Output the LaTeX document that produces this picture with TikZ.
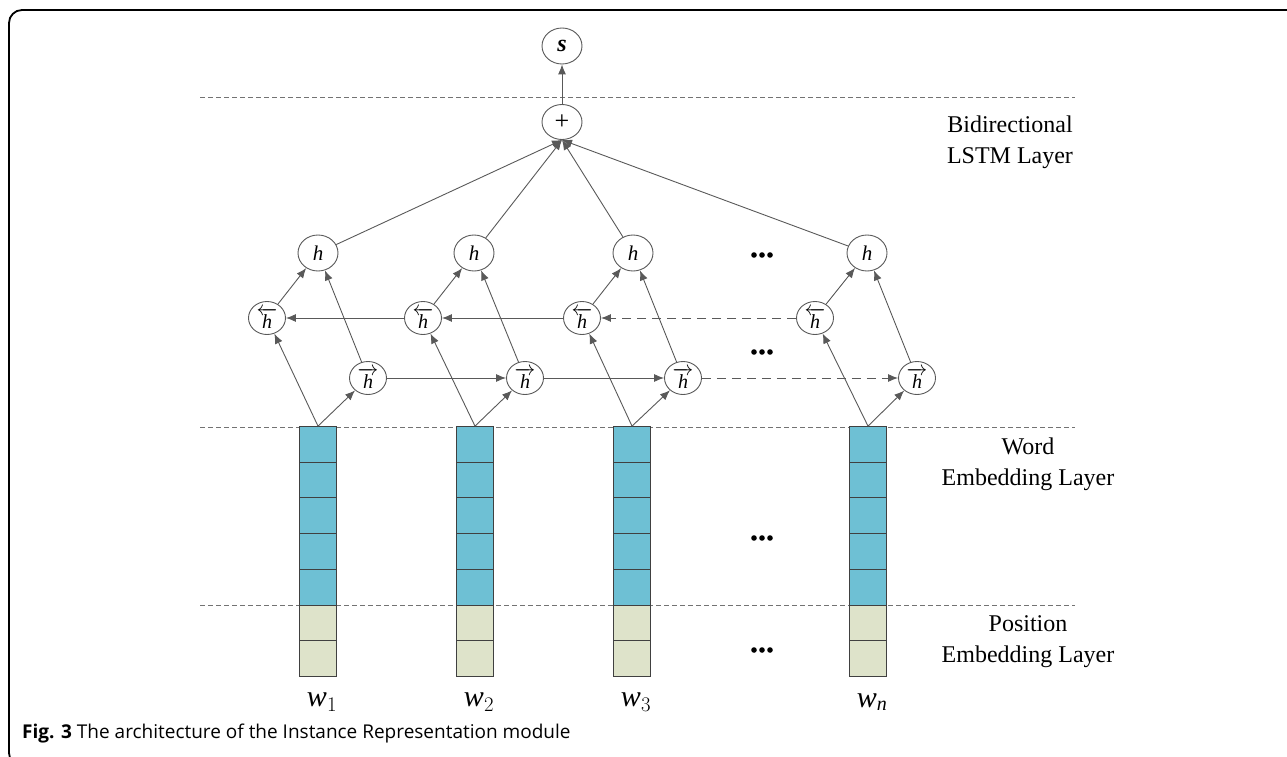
\documentclass[tikz,border=0pt]{standalone}
\usepackage{fontspec}
\setmainfont{Liberation Serif}
\newfontfamily\capfont{Open Sans}
\usetikzlibrary{shapes.geometric,arrows.meta}
\begin{document}
\begin{tikzpicture}[x=1pt,y=-1pt,
  edge/.style={draw=black!65, line width=0.9pt, -{Latex[length=10pt,width=8pt]}},
  dashedge/.style={edge, dash pattern=on 9pt off 6pt},
  layerline/.style={draw=black!55, line width=0.9pt, dash pattern=on 5pt off 3pt},
  hnode/.style={ellipse, draw=black!65, line width=0.9pt, fill=white, minimum width=40pt, minimum height=36pt, inner sep=0pt, font=\fontsize{21}{22}\selectfont},
  dnode/.style={ellipse, draw=black!65, line width=0.9pt, fill=white, minimum width=37pt, minimum height=33pt, inner sep=0pt, font=\fontsize{20}{22}\selectfont},
  bluecell/.style={draw=black!75, line width=0.8pt, fill={rgb,255:red,110;green,192;blue,212}, minimum width=37pt, minimum height=35.8pt, inner sep=0pt, outer sep=0pt},
  beigecell/.style={draw=black!75, line width=0.8pt, fill={rgb,255:red,222;green,227;blue,202}, minimum width=37pt, minimum height=35.5pt, inner sep=0pt, outer sep=0pt},
  lbl/.style={font=\fontsize{24}{31}\selectfont, align=center},
  wlbl/.style={font=\fontsize{30}{30}\selectfont},
]
\useasboundingbox (0,0) rectangle (1287,757);
\begin{scope}
\clip (0,0) rectangle (1287,757);
\draw[line width=1.8pt, rounded corners=13pt] (1300,10) -- (9,10) -- (9,766) -- (40,766);
\end{scope}

% layer lines
\draw[layerline] (200,97) -- (1075,97);
\draw[layerline] (200,427) -- (1075,427);
\draw[layerline] (200,605) -- (1075,605);

% top nodes
\node[hnode, font=\fontsize{24}{24}\selectfont] (s) at (562,46) {\textbf{\textit{s}}};
\node[hnode, minimum height=35pt, font=\fontsize{26}{26}\selectfont] (plus) at (562,122) {+};

% columns
\foreach \i/\x in {1/318,2/475,3/632,4/868}{
  \foreach \k in {0,...,4}{
    \node[bluecell] (c\i-\k) at (\x,{444+35.8*\k}) {};
  }
  \node[beigecell] (p\i-0) at (\x,622.8) {};
  \node[beigecell] (p\i-1) at (\x,658.3) {};
}

% h nodes
\node[hnode] (h1) at (318,253) {\textit{h}};
\node[hnode] (h2) at (474,253) {\textit{h}};
\node[hnode] (h3) at (633,253) {\textit{h}};
\node[hnode] (h4) at (867,253) {\textit{h}};

\node[dnode] (b1) at (267,318) {$\overleftarrow{\textit{h}}$};
\node[dnode] (b2) at (423,318) {$\overleftarrow{\textit{h}}$};
\node[dnode] (b3) at (582,318) {$\overleftarrow{\textit{h}}$};
\node[dnode] (b4) at (815,318) {$\overleftarrow{\textit{h}}$};

\node[dnode] (f1) at (368,378) {$\overrightarrow{\textit{h}}$};
\node[dnode] (f2) at (525,378) {$\overrightarrow{\textit{h}}$};
\node[dnode] (f3) at (683,378) {$\overrightarrow{\textit{h}}$};
\node[dnode] (f4) at (917,378) {$\overrightarrow{\textit{h}}$};

% edges
\draw[edge] (plus) -- (s);
\foreach \i in {1,2,3,4}{
  \draw[edge] (c\i-0.north) -- (b\i);
  \draw[edge] (c\i-0.north) -- (f\i);
  \draw[edge] (b\i) -- (h\i);
  \draw[edge] (f\i) -- (h\i);
  \draw[edge] (h\i) -- (plus.south);
}
\draw[edge] (f1) -- (f2);
\draw[edge] (f2) -- (f3);
\draw[dashedge] (f3) -- (f4);
\draw[edge] (b2) -- (b1);
\draw[edge] (b3) -- (b2);
\draw[dashedge] (b4) -- (b3);

% dots
\foreach \y [count=\j] in {255,352,538,650}{
  \node[inner sep=0pt] (dots\j) at (762,\y) {\tikz[x=1pt,y=1pt]{\fill (0,0) circle (2.8); \fill (8,0) circle (2.8); \fill (16,0) circle (2.8);}};
}

% labels
\node[lbl] (L1) at (1010,142) {Bidirectional\\LSTM Layer};
\node[lbl] (L2) at (1028,464) {Word\\Embedding Layer};
\node[lbl] (L3) at (1028,642) {Position\\Embedding Layer};

\node[wlbl] (w1) at (322,702) {$\textit{w}_{\fontsize{20}{20}\selectfont 1}$};
\node[wlbl] (w2) at (479,702) {$\textit{w}_{\fontsize{20}{20}\selectfont 2}$};
\node[wlbl] (w3) at (636,702) {$\textit{w}_{\fontsize{20}{20}\selectfont 3}$};
\node[wlbl] (w4) at (872,702) {$\textit{w}_{\fontsize{20}{20}\selectfont\textit{n}}$};

% caption
\node[anchor=west, inner sep=0pt, font=\capfont\fontsize{19}{21}\selectfont] (cap) at (22,734) {\textbf{Fig. 3} The architecture of the Instance Representation module};
\end{tikzpicture}
\end{document}
